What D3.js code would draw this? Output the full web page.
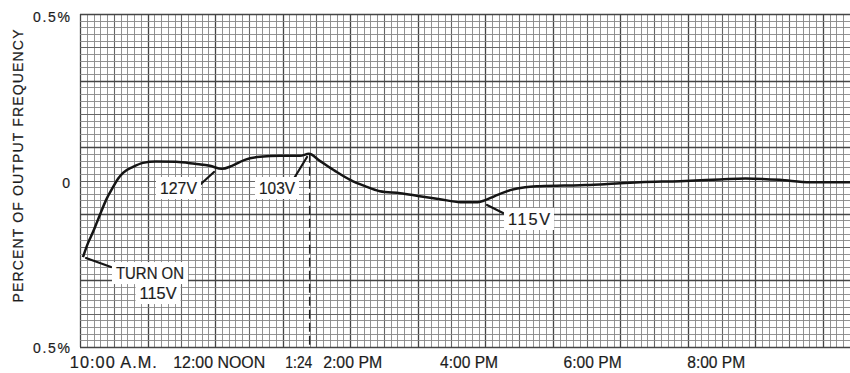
<!DOCTYPE html>
<html lang="en">
<head>
  <meta charset="UTF-8">
  <title>Percent of output frequency</title>
  <script src="https://cdn.jsdelivr.net/npm/d3@7/dist/d3.min.js"></script>
  <style>
    body { margin: 0; background: #fff; }
    svg { display: block; }
    .lbl { font-family: "Liberation Sans", Arial, sans-serif; fill: #1c1c1c; stroke: #1c1c1c; stroke-width: 0.2px; }
  </style>
</head>
<body>
  <svg width="850" height="373"></svg>

  <script>
    // readings from the strip chart: hours (24h clock) vs percent deviation
    var hours = [10.044, 10.118, 10.192, 10.252, 10.311, 10.385, 10.489, 10.563, 10.637, 10.785,
      10.933, 11.125, 11.421, 11.70, 11.925, 12.10, 12.25, 12.44, 12.665, 12.96,
      13.257, 13.39, 13.55, 13.775, 14.0, 14.22, 14.44, 14.74, 15.03, 15.33,
      15.63, 15.89, 16.0, 16.14, 16.37, 16.59, 16.81, 17.40, 17.70, 17.995,
      18.29, 18.88, 19.48, 19.85, 20.36, 20.81, 21.40];
    var percent = [-0.230, -0.188, -0.155, -0.125, -0.095, -0.059, -0.020, 0.005, 0.023, 0.041,
      0.053, 0.057, 0.056, 0.050, 0.044, 0.035, 0.044, 0.062, 0.071, 0.074,
      0.074, 0.080, 0.059, 0.029, 0.002, -0.017, -0.032, -0.038, -0.047, -0.056,
      -0.065, -0.065, -0.059, -0.047, -0.029, -0.020, -0.017, -0.014, -0.012, -0.008,
      -0.005, -0.002, 0.003, 0.006, 0.002, -0.005, -0.005];

    var xTickText = ["10:00 A.M.", "12:00 NOON", "1:24", "2:00 PM", "4:00 PM", "6:00 PM", "8:00 PM"];
    var xTickAt = [9.85, 11.38, 13.04, 13.6, 15.33, 17.16, 18.99];   // where each label starts
    var yTickText = ["0.5%", "0", "0.5%"];
    var yTickAt = [0.5, 0, -0.5];

    // switch at 1:24
    var markHour = 13.4, markTop = 0.08;

    // notes: text lines, label centre, pointer from -> to
    var noteText = [["TURN ON", "115V"], ["127V"], ["103V"], ["115V"]];
    var noteLabel = [[[11.036, -0.278], [11.155, -0.338]], [[11.458, -0.0225]], [[12.917, -0.0225]], [[16.648, -0.1156]]];
    var notePtr = [[[10.459, -0.260], [10.089, -0.233]], [[11.79, -0.0105], [11.984, 0.0255]],
      [[13.154, 0.0015], [13.361, 0.0706]], [[16.263, -0.0976], [16.026, -0.0736]]];

    // layout: printed width of the lettering, px
    var xTickWidth = [87, 92, 27, 59, 58, 58, 58];
    var yTickWidth = [37, 0, 37];
    var noteWidth = [[68, 37], [37], [36], [42]];

    var svg = d3.select("svg");
    var x = d3.scaleLinear().domain([10, 21.4]).range([80, 850]);
    var y = d3.scaleLinear().domain([-0.5, 0.5]).range([347, 14]);

    function px(v) { return Math.round(v) + 0.5; }

    // widen by spacing only, narrow by squeezing glyphs
    function label(g, t, cx, cy, size, w, anchor) {
      var s = g.append("text").attr("class", "lbl")
        .attr("x", cx).attr("y", cy)
        .attr("text-anchor", anchor)
        .style("font-size", size + "px")
        .text(t);
      if (w) {
        var natural = s.node().getComputedTextLength();
        s.attr("textLength", w).attr("lengthAdjust", natural < w ? "spacing" : "spacingAndGlyphs");
      }
      return s;
    }

    // chart paper grid
    var grid = svg.append("g");
    var cols = d3.range(0, 115), rows = d3.range(0, 51);
    function gridStyle(sel, i) {
      sel.attr("stroke", i % 10 == 0 ? "#454545" : i % 5 == 0 ? "#666" : "#878787")
        .attr("stroke-width", i % 10 == 0 ? 1.3 : i % 5 == 0 ? 1.1 : 0.9);
    }
    // minor first, majors on top
    [cols.filter(function (i) { return i % 5; }), cols.filter(function (i) { return !(i % 5); })].forEach(function (set) {
      set.forEach(function (i) {
        var xx = px(x(10 + i / 10));
        grid.append("line").attr("x1", xx).attr("x2", xx).attr("y1", y(0.5)).attr("y2", y(-0.5)).call(gridStyle, i);
      });
    });
    [rows.filter(function (i) { return i % 5; }), rows.filter(function (i) { return !(i % 5); })].forEach(function (set) {
      set.forEach(function (i) {
        var yy = px(y(-0.5 + i * 0.02));
        grid.append("line").attr("x1", x(10)).attr("x2", 850).attr("y1", yy).attr("y2", yy).call(gridStyle, i);
      });
    });

    // dashed marker at 1:24
    svg.append("line")
      .attr("x1", x(markHour)).attr("x2", x(markHour))
      .attr("y1", y(markTop)).attr("y2", y(-0.5))
      .attr("stroke", "#222").attr("stroke-width", 1.4)
      .attr("stroke-dasharray", "9,4");

    // recorded trace
    var pts = hours.map(function (h, i) { return [h, percent[i]]; });
    var line = d3.line()
      .x(function (d) { return x(d[0]); })
      .y(function (d) { return y(d[1]); })
      .curve(d3.curveMonotoneX);
    svg.append("path").datum(pts)
      .attr("d", line)
      .attr("fill", "none")
      .attr("stroke", "#151515")
      .attr("stroke-width", 2.5)
      .attr("stroke-linejoin", "round");

    // notes with white label boxes
    var notes = svg.append("g");
    noteText.forEach(function (lines, n) {
      var p = notePtr[n];
      notes.append("line")
        .attr("x1", x(p[0][0])).attr("y1", y(p[0][1]))
        .attr("x2", x(p[1][0])).attr("y2", y(p[1][1]))
        .attr("stroke", "#151515").attr("stroke-width", 2.2).attr("stroke-linecap", "round");
      lines.forEach(function (t, k) {
        var c = noteLabel[n][k], w = noteWidth[n][k];
        notes.append("rect").attr("fill", "#fff")
          .attr("x", x(c[0]) - w / 2 - 4).attr("y", y(c[1]) - 11)
          .attr("width", w + 8).attr("height", 22);
        label(notes, t, x(c[0]), y(c[1]) + 6, 16.3, w, "middle");
      });
    });

    // y labels
    var ylab = svg.append("g");
    yTickText.forEach(function (t, i) {
      label(ylab, t, 70, y(yTickAt[i]) + (i == 0 ? 8 : i == 1 ? 7.5 : 6), 14, yTickWidth[i], "end");
    });

    // x labels
    var xlab = svg.append("g");
    xTickText.forEach(function (t, i) {
      label(xlab, t, x(xTickAt[i]), 368, 16.3, xTickWidth[i], "start");
    });

    // axis title
    svg.append("text").attr("class", "lbl")
      .attr("transform", "translate(23,166) rotate(-90)")
      .attr("text-anchor", "middle")
      .attr("textLength", 273).attr("lengthAdjust", "spacing")
      .style("font-size", "14px")
      .text("PERCENT OF OUTPUT FREQUENCY");
  </script>
</body>
</html>
